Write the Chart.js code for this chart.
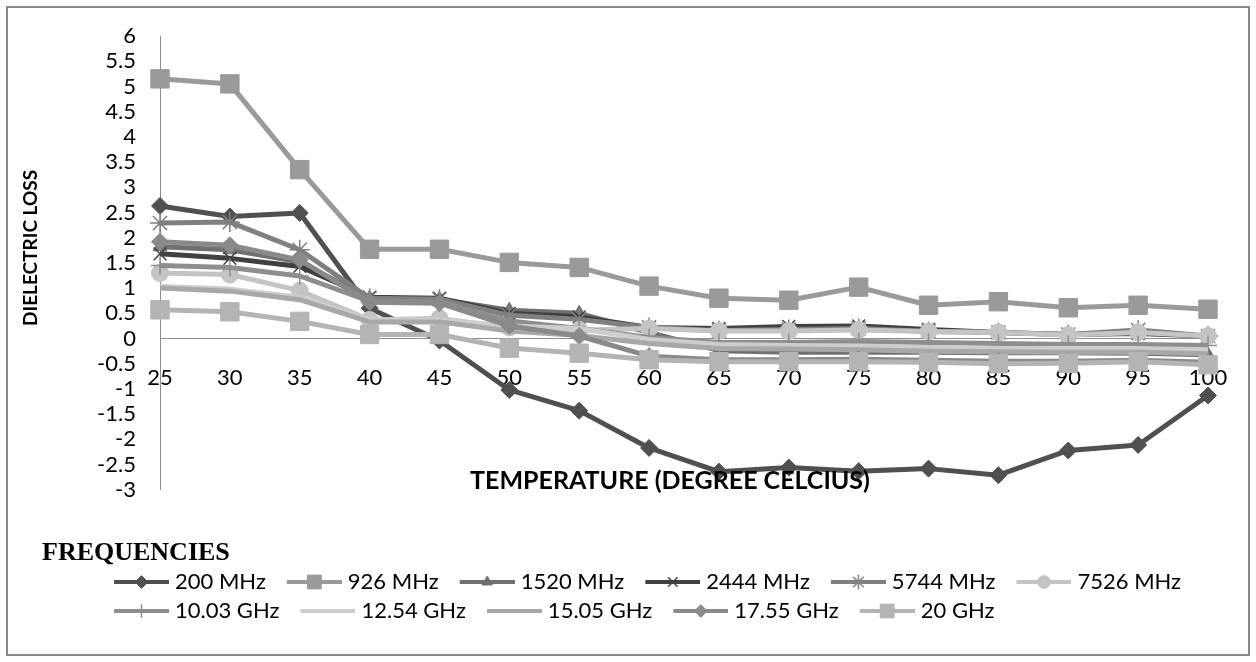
<!DOCTYPE html>
<html>
<head>
<meta charset="utf-8">
<title>Dielectric loss vs temperature</title>
<script src="https://cdn.jsdelivr.net/npm/chart.js@4/dist/chart.umd.min.js"></script>
<style>
  body { margin: 0; background: #fff; }
  #frame {
    position: absolute; left: 6px; top: 6px;
    width: 1240px; height: 646px;
    border: 2px solid #8a8a8a; background: #fff;
  }
</style>
</head>
<body>
<div id="frame"><canvas id="lossChart"></canvas></div>
<script>
// temperature steps (degree celcius)
var temps = ['25', '30', '35', '40', '45', '50', '55', '60', '65', '70', '75', '80', '85', '90', '95', '100'];

// dielectric loss per frequency
var f200 = [2.63, 2.42, 2.49, 0.6, -0.04, -1.02, -1.43, -2.17, -2.64, -2.56, -2.63, -2.58, -2.71, -2.22, -2.11, -1.13];
var f926 = [5.15, 5.05, 3.35, 1.77, 1.77, 1.51, 1.41, 1.04, 0.8, 0.76, 1.02, 0.66, 0.73, 0.61, 0.66, 0.58];
var f1520 = [1.82, 1.76, 1.52, 0.8, 0.78, 0.56, 0.5, 0.12, -0.24, -0.27, -0.27, -0.27, -0.28, -0.28, -0.29, -0.32];
var f2444 = [1.68, 1.59, 1.43, 0.82, 0.8, 0.5, 0.43, 0.22, 0.2, 0.24, 0.25, 0.18, 0.12, 0.08, 0.1, 0.05];
var f5744 = [2.29, 2.31, 1.76, 0.8, 0.78, 0.46, 0.38, 0.22, 0.16, 0.18, 0.2, 0.14, 0.12, 0.08, 0.17, 0.05];
var f7526 = [1.3, 1.27, 0.95, 0.37, 0.4, 0.22, 0.17, 0.2, 0.15, 0.15, 0.17, 0.14, 0.12, 0.07, 0.12, 0.05];
var f10030 = [1.45, 1.41, 1.24, 0.74, 0.72, 0.35, 0.2, 0.02, -0.08, -0.08, -0.06, -0.08, -0.1, -0.12, -0.12, -0.14];
var f12540 = [1.03, 0.98, 0.82, 0.37, 0.37, 0.25, 0.2, -0.02, -0.12, -0.14, -0.15, -0.18, -0.2, -0.2, -0.2, -0.22];
var f15050 = [1.0, 0.94, 0.77, 0.33, 0.33, 0.15, 0.06, -0.1, -0.2, -0.21, -0.22, -0.25, -0.26, -0.27, -0.27, -0.3];
var f17550 = [1.92, 1.85, 1.56, 0.72, 0.7, 0.25, 0.05, -0.35, -0.42, -0.42, -0.41, -0.43, -0.45, -0.45, -0.43, -0.47];
var f20000 = [0.57, 0.53, 0.34, 0.08, 0.08, -0.19, -0.29, -0.42, -0.46, -0.46, -0.46, -0.47, -0.5, -0.49, -0.46, -0.52];

var freqNames = ['200 MHz', '926 MHz', '1520 MHz', '2444 MHz', '5744 MHz', '7526 MHz',
  '10.03 GHz', '12.54 GHz', '15.05 GHz', '17.55 GHz', '20 GHz'];

var xTitle = 'TEMPERATURE (DEGREE CELCIUS)';
var yTitle = 'DIELECTRIC LOSS';
var legendHeading = 'FREQUENCIES';

Chart.defaults.font.family = 'Lato';
Chart.defaults.color = '#000';

function series(i, values, color, marker, size, edge) {
  return {
    label: freqNames[i],
    data: values,
    borderColor: color,
    backgroundColor: color,
    borderWidth: 5,
    borderJoinStyle: 'round',
    pointStyle: marker || 'circle',
    pointRadius: marker ? size : 0,
    pointHoverRadius: marker ? size : 0,
    pointBackgroundColor: color,
    pointBorderColor: color,
    pointBorderWidth: edge || 1,
    order: 11 - i // later series on top
  };
}

var datasets = [
  series(0, f200, '#505050', 'rectRot', 8.5),
  series(1, f926, '#9a9a9a', 'rect', 13),
  series(2, f1520, '#707070', 'triangle', 8),
  series(3, f2444, '#404040', 'crossRot', 9, 1.5),
  series(4, f5744, '#808080', 'star', 10, 1.5),
  series(5, f7526, '#c4c4c4', 'circle', 8.5),
  series(6, f10030, '#8e8e8e', 'cross', 9, 1.5),
  series(7, f12540, '#cdcdcd'),
  series(8, f15050, '#a8a8a8'),
  series(9, f17550, '#8a8a8a', 'rectRot', 8.5),
  series(10, f20000, '#b4b4b4', 'rect', 13)
];

// small line + marker sample for each legend entry
function legendIcon(ds) {
  var c = document.createElement('canvas');
  c.width = 74;
  c.height = 22;
  var g = c.getContext('2d');
  g.strokeStyle = ds.borderColor;
  g.lineWidth = 4;
  g.beginPath();
  g.moveTo(19, 11);
  g.lineTo(74, 11);
  g.stroke();
  if (ds.pointRadius > 0) {
    g.fillStyle = ds.borderColor;
    g.lineWidth = ds.pointBorderWidth;
    Chart.helpers.drawPoint(g, {
      pointStyle: ds.pointStyle,
      radius: ds.pointRadius * 0.75,
      borderWidth: ds.pointBorderWidth,
      rotation: 0
    }, 46.5, 11);
  }
  return c;
}

// axis titles and the legend heading
var captions = {
  id: 'captions',
  afterDraw: function (chart) {
    var ctx = chart.ctx;
    var area = chart.chartArea;
    ctx.save();
    ctx.fillStyle = '#000';
    ctx.textBaseline = 'middle';
    ctx.textAlign = 'center';
    ctx.font = 'bold 25px Lato';
    ctx.fillText(xTitle, (area.left + area.right) / 2 - 14, area.bottom - 9);

    ctx.save();
    ctx.translate(23, (area.top + area.bottom) / 2 - 15);
    ctx.rotate(-Math.PI / 2);
    ctx.font = 'bold 19px Lato';
    ctx.fillText(yTitle, 0, 0);
    ctx.restore();

    ctx.textAlign = 'left';
    ctx.font = 'bold 26px "Liberation Serif"';
    ctx.fillText(legendHeading, 34, chart.legend.top + 63);
    ctx.restore();
  }
};

new Chart(document.getElementById('lossChart'), {
  type: 'line',
  data: { labels: temps, datasets: datasets },
  plugins: [captions],
  options: {
    responsive: true,
    maintainAspectRatio: false,
    animation: false,
    layout: { padding: { left: 85, right: 40, top: 28, bottom: 22 } },
    scales: {
      x: {
        position: { y: 0 },
        offset: false,
        // hidden tick marks only push the labels away from the zero line
        grid: { display: false, drawTicks: true, tickLength: 26 },
        border: { display: true, color: '#8c8c8c', width: 1 },
        ticks: { font: { size: 22 }, padding: 0, maxRotation: 0, autoSkip: false }
      },
      y: {
        min: -3,
        max: 6,
        grid: { display: false, drawTicks: true, tickLength: 24 },
        border: { display: true, color: '#8c8c8c', width: 1 },
        ticks: {
          stepSize: 0.5,
          autoSkip: false,
          font: { size: 22 },
          padding: 0,
          callback: function (v) { return String(v); }
        },
        afterFit: function (scale) { scale.width = 67; }
      }
    },
    plugins: {
      tooltip: { enabled: false },
      legend: {
        position: 'bottom',
        align: 'start',
        // empty title keeps room above the rows for the heading
        title: { display: true, text: '', font: { size: 26 }, padding: { top: 43, bottom: 0 } },
        labels: {
          usePointStyle: true,
          pointStyleWidth: 64,
          padding: 7,
          color: '#000',
          font: { size: 22 },
          generateLabels: function (chart) {
            return chart.data.datasets.map(function (ds, i) {
              return {
                text: ds.label,
                pointStyle: legendIcon(ds),
                datasetIndex: i,
                fontColor: '#000',
                lineWidth: 0,
                strokeStyle: 'rgba(0,0,0,0)',
                fillStyle: 'rgba(0,0,0,0)',
                hidden: false
              };
            });
          }
        }
      }
    }
  }
});
</script>
</body>
</html>
